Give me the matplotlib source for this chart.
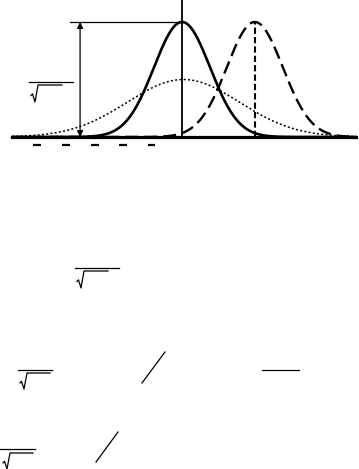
import numpy as np
import matplotlib
matplotlib.use("Agg")
import matplotlib.pyplot as plt

# ---------------------- DATA ----------------------
# normal curves in sigma units: (mean, sigma)
curve_names = ["standard", "shifted", "wide"]
curve_means = [0.0, 2.6, 0.05]
curve_sigmas = [1.0, 1.0, 2.0]
curve_styles = ["solid", "dashed", "dotted"]

x_start, x_end = -6.07, 6.21      # extent of the base line
arrow_x = -3.64                   # position of the height arrow
peak_line_from = -4.0             # left end of the peak level line
minus_marks = [-5.18, -4.14, -3.11, -2.11, -1.09]   # row of minus signs under the axis
minus_y = -0.028

# leftover formula fragments (pixel coords): fraction bars, radicals, slashes
frac_bars = [((29, 73), 82), ((75, 119), 268), ((18, 52), 370), ((0, 35), 449), ((262, 299), 370)]
radicals = [(31, 85, 102, 62), (77, 271, 288, 108), (20, 373, 389, 50), (3, 453, 469, 33)]
slashes = [((142, 383), (165, 352)), ((96, 462), (118, 432))]

# ---------------------- PLOT ----------------------
W, H = 359, 469
fig = plt.figure(figsize=(W / 100, H / 100), dpi=100)
ax = fig.add_axes([0, 0, 1, 1])
px_per_x, px_per_y = 28.0, 288.3
x0_px, y0_px = 182, 137
ax.set_xlim(-x0_px / px_per_x, (W - x0_px) / px_per_x)
ax.set_ylim(-(H - y0_px) / px_per_y, y0_px / px_per_y)
ax.axis("off")


def pdf(u, m, s):
    return np.exp(-0.5 * ((u - m) / s) ** 2) / (s * np.sqrt(2 * np.pi))


u = np.linspace(x_start, x_end, 800)
for m, s, st in zip(curve_means, curve_sigmas, curve_styles):
    if st == "solid":
        ax.plot(u, pdf(u, m, s), color="black", lw=1.9, solid_capstyle="round")
    elif st == "dashed":
        ax.plot(u, pdf(u, m, s), color="black", lw=1.7, dashes=(5.5, 2.5))
    else:
        ax.plot(u, pdf(u, m, s), color="black", lw=1.1, dashes=(1.3, 1.5))

peak = pdf(0, 0, 1)
ax.plot([x_start, x_end], [0, 0], color="black", lw=2.3)
ax.plot([0, 0], [0, y0_px / px_per_y], color="black", lw=1.3)
ax.plot([curve_means[1]] * 2, [0, peak], color="black", lw=1.5, dashes=(3, 1.5))
ax.plot([peak_line_from, 0], [peak, peak], color="black", lw=0.9)
ax.annotate("", xy=(arrow_x, peak), xytext=(arrow_x, 0),
            arrowprops=dict(arrowstyle="<|-|>", color="black", lw=0.9,
                            mutation_scale=9, shrinkA=0, shrinkB=0))
for mx in minus_marks:
    ax.plot([mx - 0.13, mx + 0.13], [minus_y, minus_y], color="black", lw=1.6,
            solid_capstyle="butt")

# formula fragments in pixel space
ov = fig.add_axes([0, 0, 1, 1])
ov.set_xlim(0, W)
ov.set_ylim(H, 0)
ov.axis("off")
for (xa, xb), y in frac_bars:
    ov.plot([xa, xb], [y, y], color="black", lw=0.9)
for x, top, bot, end in radicals:
    h = bot - top
    ov.plot([x, x + 1.5, x + 4, x + 7, end],
            [top + 0.62 * h, top + 0.52 * h, bot, top, top], color="black", lw=0.9)
for (xa, ya), (xb, yb) in slashes:
    ov.plot([xa, xb], [ya, yb], color="black", lw=0.9)

fig.savefig("out.png", dpi=100, facecolor="white")
